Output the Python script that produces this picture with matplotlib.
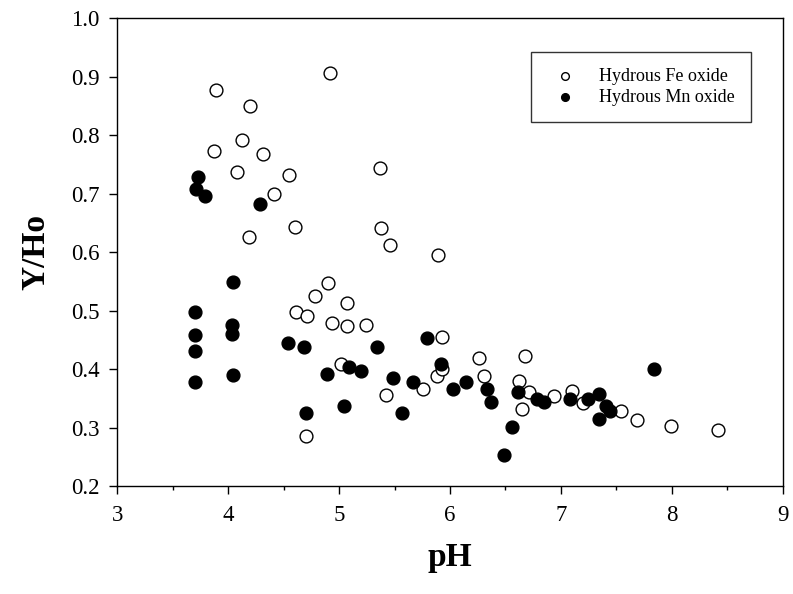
import matplotlib
matplotlib.use("Agg")
import matplotlib.pyplot as plt
from matplotlib.ticker import MultipleLocator

# Hydrous Fe oxide (open circles)
fe_ph = [4.92, 3.89, 4.20, 4.12, 3.87, 4.31, 4.08, 4.55, 5.37, 4.41,
         4.60, 4.19, 5.38, 5.46, 5.89,
         4.61, 4.71, 4.78, 4.90, 5.07, 4.94, 5.07, 5.24, 5.93, 5.02,
         4.70, 5.42, 5.76, 5.88, 5.93,
         6.26, 6.31, 6.68, 6.62, 6.71, 6.65, 6.94, 7.10, 7.20, 7.54,
         7.69, 7.99, 8.42]
fe_y = [0.906, 0.877, 0.850, 0.793, 0.773, 0.769, 0.738, 0.733, 0.744, 0.700,
        0.643, 0.627, 0.642, 0.613, 0.596,
        0.499, 0.492, 0.525, 0.548, 0.513, 0.479, 0.474, 0.476, 0.456, 0.409,
        0.286, 0.357, 0.367, 0.389, 0.401,
        0.419, 0.388, 0.423, 0.381, 0.361, 0.333, 0.354, 0.364, 0.342, 0.329,
        0.313, 0.304, 0.297]

# Hydrous Mn oxide (filled circles)
mn_ph = [3.73, 3.71, 3.79, 4.29,
         4.04, 3.70, 3.70, 3.70, 3.70, 4.03, 4.03, 4.04, 4.54, 4.68,
         4.70, 4.89, 5.09, 5.20, 5.04, 5.34, 5.49, 5.57, 5.67, 5.79, 5.92,
         6.03, 6.14, 6.33, 6.37, 6.56, 6.49, 6.61, 6.78, 6.85, 7.08,
         7.24, 7.34, 7.34, 7.41, 7.44, 7.84]
mn_y = [0.729, 0.708, 0.697, 0.682,
        0.549, 0.498, 0.459, 0.431, 0.379, 0.476, 0.460, 0.390, 0.446, 0.439,
        0.325, 0.392, 0.404, 0.397, 0.338, 0.438, 0.386, 0.325, 0.379, 0.454, 0.409,
        0.366, 0.379, 0.367, 0.344, 0.302, 0.253, 0.361, 0.349, 0.344, 0.350,
        0.349, 0.358, 0.316, 0.338, 0.329, 0.401]

plt.rcParams["font.family"] = ["Liberation Serif", "DejaVu Serif"]

fig = plt.figure(figsize=(7.93, 5.94), dpi=100)
ax = fig.add_axes([0.148, 0.181, 0.839, 0.788])

ax.scatter(fe_ph, fe_y, s=85, facecolors="white", edgecolors="black",
           linewidths=1.0, label="Hydrous Fe oxide", zorder=3)
ax.scatter(mn_ph, mn_y, s=85, facecolors="black", edgecolors="black",
           linewidths=1.0, label="Hydrous Mn oxide", zorder=3)

ax.set_xlim(3, 9)
ax.set_ylim(0.2, 1.0)
ax.xaxis.set_major_locator(MultipleLocator(1))
ax.xaxis.set_minor_locator(MultipleLocator(0.5))
ax.yaxis.set_major_locator(MultipleLocator(0.1))
ax.yaxis.set_major_formatter(plt.FormatStrFormatter("%.1f"))
ax.tick_params(direction="out", length=6, width=1, labelsize=16.5,
               top=False, right=False, pad=7)
ax.tick_params(which="minor", direction="out", length=3, width=1)
for sp in ax.spines.values():
    sp.set_linewidth(1.0)

ax.set_xlabel("pH", fontsize=24, fontweight="bold", labelpad=12)
ax.set_ylabel("Y/Ho", fontsize=24, fontweight="bold", labelpad=14)

leg = ax.legend(loc="upper right", bbox_to_anchor=(0.953, 0.929), fontsize=13,
                markerscale=0.6, frameon=True, fancybox=False,
                handlelength=2.0, handletextpad=0.9, borderpad=0.9,
                labelspacing=0.2, borderaxespad=0)
leg.get_frame().set_edgecolor("black")
leg.get_frame().set_linewidth(1.0)

fig.savefig("out.png", dpi=100)
